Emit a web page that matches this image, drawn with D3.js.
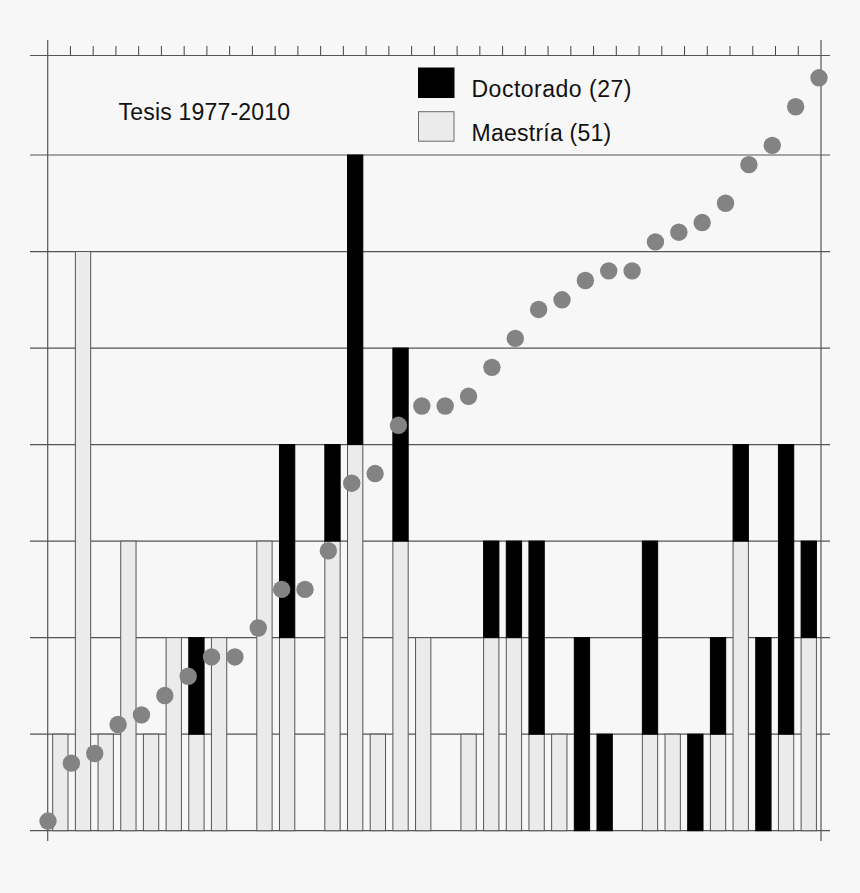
<!DOCTYPE html>
<html>
<head>
<meta charset="utf-8">
<script src="https://cdn.jsdelivr.net/npm/d3@7"></script>
<style>
  html, body { margin: 0; padding: 0; background: #f7f7f7; }
  svg { display: block; }
</style>
</head>
<body>
<svg id="chart" width="860" height="893"></svg>
<script>
// ---- data ----
const years = [1977,1978,1979,1980,1981,1982,1983,1984,1985,1986,1987,1988,1989,1990,1991,1992,1993,
               1994,1995,1996,1997,1998,1999,2000,2001,2002,2003,2004,2005,2006,2007,2008,2009,2010];
const maestria  = [1,6,1,3,1,2,1,2,0,3,2,0,3,4,1,3,2,0,1,2,2,1,1,0,0,0,1,1,0,1,3,0,1,2];
const doctorado = [0,0,0,0,0,0,1,0,0,0,2,0,1,3,0,2,0,0,0,1,1,2,0,2,1,0,2,0,1,1,1,2,3,1];
const gridValues = [0,1,2,3,4,5,6,7];
const titleText = "Tesis 1977-2010";
const legendLabels = ["Doctorado (27)", "Maestría (51)"];

// ---- layout ----
const W = 860, H = 893;
const axisLeft = 47.7, axisRight = 821;
const frameTop = 55.5, base = 830.7;
const lineLeft = 30, lineRight = 830;

const svg = d3.select("#chart");
svg.append("rect").attr("width", W).attr("height", H).attr("fill", "#f7f7f7");

const y = d3.scaleLinear().domain([0, 7]).range([base, 155]);
const yCum = d3.scaleLinear().domain([0, 70]).range([base, 155]);
const xBand = d3.scaleBand().domain(years).range([49, 820.1]).paddingInner(0.325).paddingOuter(0.1625);
const xPoint = d3.scalePoint().domain(years).range([48, 819]);
const xYear = d3.scaleLinear().domain([1977, 2011]).range([axisLeft, axisRight]);

const rows = years.map((yr, i) => ({ year: yr, m: maestria[i], d: doctorado[i] }));
const cum = Array.from(d3.cumsum(rows, r => r.m + r.d));

// gridlines
svg.append("g").selectAll("line").data(gridValues).join("line")
  .attr("x1", lineLeft).attr("x2", lineRight)
  .attr("y1", d => y(d)).attr("y2", d => y(d))
  .attr("stroke", "#555").attr("stroke-width", 1.2);
// top frame line
svg.append("line").attr("x1", lineLeft).attr("x2", lineRight)
  .attr("y1", frameTop).attr("y2", frameTop)
  .attr("stroke", "#555").attr("stroke-width", 1.2);

// top ticks
const tickYears = d3.range(1978, 2011);
svg.append("g").selectAll("line").data(tickYears).join("line")
  .attr("x1", d => xYear(d)).attr("x2", d => xYear(d))
  .attr("y1", frameTop).attr("y2", frameTop - 9.5)
  .attr("stroke", "#444").attr("stroke-width", 1);

// vertical axes
[axisLeft, axisRight].forEach(x => {
  svg.append("line").attr("x1", x).attr("x2", x).attr("y1", 40).attr("y2", 841)
    .attr("stroke", "#555").attr("stroke-width", 1.2);
});

// bars
const bars = svg.append("g");
bars.selectAll("rect.m").data(rows.filter(r => r.m > 0)).join("rect")
  .attr("class", "m")
  .attr("x", r => xBand(r.year)).attr("width", xBand.bandwidth())
  .attr("y", r => y(r.m)).attr("height", r => y(0) - y(r.m))
  .attr("fill", "#ebebeb").attr("stroke", "#555").attr("stroke-width", 1);
bars.selectAll("rect.d").data(rows.filter(r => r.d > 0)).join("rect")
  .attr("class", "d")
  .attr("x", r => xBand(r.year)).attr("width", xBand.bandwidth())
  .attr("y", r => y(r.m + r.d)).attr("height", r => y(r.m) - y(r.m + r.d))
  .attr("fill", "#000").attr("stroke", "#000").attr("stroke-width", 1);

// cumulative dots
svg.append("g").selectAll("circle").data(rows).join("circle")
  .attr("cx", r => xPoint(r.year))
  .attr("cy", (r, i) => yCum(cum[i]))
  .attr("r", 8.7)
  .attr("fill", "#838383");

// title
svg.append("text").attr("x", 118.5).attr("y", 120)
  .attr("font-family", "Liberation Sans, Arial, Helvetica, sans-serif")
  .attr("font-size", 23).attr("letter-spacing", 0.2).attr("fill", "#111")
  .text(titleText);

// legend
const legendFills = ["#000", "#ebebeb"];
const lg = svg.append("g");
legendLabels.forEach((lab, i) => {
  const top = 68 + i * 43.7;
  lg.append("rect").attr("x", 418.5).attr("y", top).attr("width", 35.5).attr("height", 29.5)
    .attr("fill", legendFills[i]).attr("stroke", i === 0 ? "#000" : "#6a6a6a").attr("stroke-width", 1);
  lg.append("text").attr("x", 471.5).attr("y", top + 29.3)
    .attr("font-family", "Liberation Sans, Arial, Helvetica, sans-serif")
    .attr("font-size", 23).attr("letter-spacing", i === 0 ? 0.5 : 0.25).attr("fill", "#111")
    .text(lab);
});
</script>
</body>
</html>
